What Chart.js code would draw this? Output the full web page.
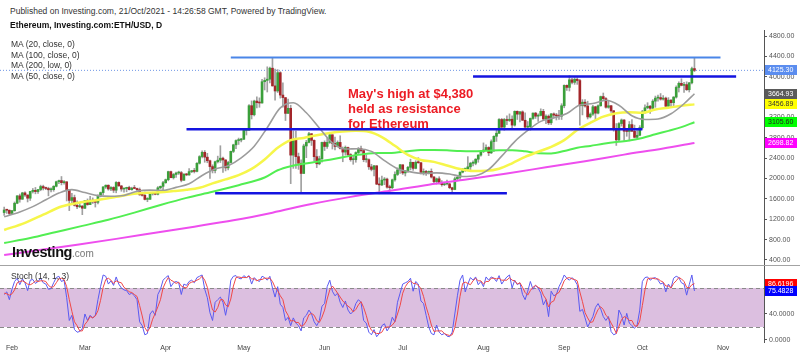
<!DOCTYPE html>
<html><head><meta charset="utf-8">
<script src="https://cdn.jsdelivr.net/npm/chart.js@4.4.1/dist/chart.umd.min.js"></script>
<style>
body{margin:0;background:#fff;width:800px;height:357px;overflow:hidden;position:relative;font-family:"Liberation Sans",Arial,sans-serif}
.t{position:absolute;white-space:nowrap;line-height:9px;font-size:8.5px;color:#333;z-index:3}
#mainBox{position:absolute;left:0;top:30px;width:800px;height:236px}
#stochBox{position:absolute;left:0;top:266px;width:800px;height:91px}
#sep{position:absolute;left:0;top:265px;width:800px;height:1px;background:#a3a3a3;z-index:2}
#note{position:absolute;left:348px;top:86px;font-weight:bold;font-size:13px;line-height:15px;color:#ec1c24;z-index:3;white-space:nowrap}
#logo{position:absolute;left:12px;top:243px;z-index:3;white-space:nowrap}
#logo b{font-size:14.5px;letter-spacing:-0.4px;color:#111}
#logo span{font-size:10px;color:#777}
</style></head><body>
<div class="t" style="left:10px;top:7px">Published on Investing.com, 21/Oct/2021 - 14:26:58 GMT, Powered by TradingView.</div>
<div class="t" style="left:10px;top:21px;font-weight:bold;color:#111">Ethereum, Investing.com:ETH/USD, D</div>
<div class="t" style="left:11px;top:40px">MA (20, close, 0)</div>
<div class="t" style="left:11px;top:51px">MA (100, close, 0)</div>
<div class="t" style="left:11px;top:61px">MA (200, low, 0)</div>
<div class="t" style="left:11px;top:72px">MA (50, close, 0)</div>
<div id="note">May's high at $4,380<br>held as resistance<br>for Ethereum</div>
<div id="logo"><b>Investing</b><span>.com</span></div>
<div class="t" style="left:11px;top:272px">Stoch (14, 1, 3)</div>
<div id="sep"></div>
<div id="mainBox"><canvas id="main"></canvas></div>
<div id="stochBox"><canvas id="stoch"></canvas></div>
<script>
// ---------------- DATA ----------------
const firstDate = '01-29';   // first daily candle (2021)
const opens = [1332,1382,1378,
1314,1369,1515,1660,1594,1718,1677,1614,1746,1768,1744,1784,1843,1814,1805,1779,1781,1848,1937,1960,1919,1935,1780,1570,1626,1475,1446,1459,
1417,1567,1488,1575,1541,1533,1655,1724,1835,1869,1795,1825,1771,1924,1855,1794,1806,1825,1782,1810,1805,1782,1681,1670,1590,1592,1700,1715,1692,1818,1847,
1919,1977,2136,2016,2080,2108,2116,1966,2088,2072,2136,2155,2140,2300,2431,2515,2420,2350,2235,2160,2330,2360,2400,2365,2210,2315,2534,2662,2746,2757,
2772,2946,2950,3431,3253,3522,3490,3484,3902,3928,3952,4168,3820,3720,4080,3640,3590,3280,3380,2460,2770,2430,2300,2100,2640,2710,2880,2750,2430,2290,2390,
2710,2630,2710,2860,2690,2630,2710,2590,2520,2610,2470,2370,2370,2510,2590,2550,2370,2370,2230,2180,2250,1890,1875,1970,1990,1830,1820,1975,2080,2170,
2270,2110,2150,2220,2320,2200,2320,2310,2120,2140,2110,2140,2030,1940,1995,1910,1880,1895,1895,1820,1785,1995,2025,2125,2185,2190,2230,2300,2300,2380,2460,
2535,2560,2610,2505,2725,2830,2890,3160,3010,3160,3140,3165,3050,3320,3265,3310,3145,3010,3020,3180,3285,3225,3240,3320,3170,3225,3095,3270,3245,3230,3225,
3430,3830,3790,3940,3890,3950,3925,3430,3500,3425,3210,3265,3410,3285,3430,3610,3570,3400,3430,3330,2960,2760,3080,3150,2930,2925,3060,2930,2810,2850,
3000,3310,3390,3420,3380,3520,3580,3590,3560,3580,3420,3540,3490,3600,3790,3870,3830,3845,3745,3880,4160];
const highs = [1440,1395,1382,
1375,1540,1665,1695,1730,1740,1680,1750,1805,1825,1785,1870,1870,1830,1830,1820,1860,1950,1970,2040,1960,1940,1780,1710,1675,1560,1528,1470,
1570,1600,1650,1620,1548,1680,1735,1840,1875,1875,1840,1840,1940,1935,1865,1815,1830,1850,1830,1865,1815,1815,1725,1735,1625,1705,1730,1730,1840,1855,1945,
1990,2145,2145,2100,2125,2145,2140,2095,2100,2195,2160,2200,2315,2450,2545,2550,2495,2365,2270,2345,2440,2645,2420,2370,2340,2540,2675,2760,2795,2790,
2950,2985,3455,3525,3540,3605,3585,3950,3980,4195,4190,4380,4150,4140,4100,3880,3590,3560,3440,2935,2930,2500,2370,2675,2750,2910,2885,2760,2570,2440,2715,
2740,2800,2890,2860,2815,2740,2840,2620,2640,2620,2490,2440,2525,2610,2640,2560,2460,2385,2280,2260,2255,2015,2050,2020,2010,1870,1990,2130,2210,2280,
2270,2160,2240,2380,2320,2350,2410,2320,2190,2160,2150,2190,2045,2010,2035,1960,1925,1970,1905,1830,2030,2045,2130,2200,2190,2430,2320,2350,2390,2470,2550,
2700,2660,2625,2760,2840,2950,3180,3180,3180,3230,3270,3230,3330,3330,3320,3330,3290,3120,3190,3290,3300,3270,3370,3360,3250,3250,3280,3290,3280,3340,3470,
3840,3840,4020,3970,3980,3980,3950,3550,3550,3520,3290,3440,3420,3450,3620,3680,3590,3520,3440,3340,3080,3100,3170,3160,2960,3120,3160,3050,2940,3040,
3340,3450,3490,3440,3550,3620,3640,3670,3630,3600,3590,3550,3610,3820,3900,3960,3890,3900,3890,4190,4370];
const lows = [1275,1315,1285,
1305,1358,1505,1535,1590,1650,1540,1570,1715,1700,1710,1760,1775,1780,1660,1735,1750,1835,1900,1875,1890,1560,1370,1505,1460,1410,1430,1290,
1410,1475,1487,1510,1440,1500,1640,1680,1805,1770,1760,1725,1720,1850,1750,1730,1740,1775,1770,1800,1730,1670,1655,1580,1545,1590,1675,1680,1680,1800,1780,
1905,1955,2015,1990,2020,2080,1935,1965,2055,2060,2115,2110,2130,2285,2405,2320,2310,2000,2110,2110,2305,2315,2120,2150,2170,2305,2510,2585,2670,2720,
2765,2855,2945,3170,3230,3385,3400,3480,3740,3700,3880,3815,3540,3690,3580,3400,3140,3280,1900,2200,2200,2180,1730,2100,2410,2700,2650,2345,2215,2270,2320,
2550,2590,2690,2580,2560,2620,2580,2330,2460,2440,2340,2280,2320,2470,2520,2330,2320,2180,2150,2050,1880,1700,1860,1880,1810,1720,1800,1950,2060,2100,
2080,2050,2120,2170,2160,2190,2300,2090,2070,2060,2090,2010,1920,1890,1890,1850,1860,1875,1800,1720,1780,1955,1985,2110,2140,2175,2160,2250,2270,2320,2440,
2510,2550,2450,2490,2530,2730,2880,2990,2950,3060,3120,2980,3030,3160,3110,3140,3000,2950,2950,3160,3180,3120,3230,3140,3080,3060,3060,3210,3150,3160,3160,
3390,3730,3720,3860,3850,3850,3050,3250,3400,3170,3190,3240,3150,3270,3420,3530,3380,3380,3300,2930,2650,2740,3030,2750,2830,2740,2920,2800,2790,2840,
2970,3280,3370,3280,3370,3400,3520,3540,3540,3410,3400,3400,3430,3580,3700,3820,3690,3730,3700,3860,4100];
const closes = [1382,1378,1314,
1369,1515,1660,1594,1718,1677,1614,1746,1768,1744,1784,1843,1814,1805,1779,1781,1848,1937,1960,1919,1935,1780,1570,1626,1475,1446,1459,1417,
1567,1488,1575,1541,1533,1655,1724,1835,1869,1795,1825,1771,1924,1855,1794,1806,1825,1782,1810,1805,1782,1681,1670,1590,1592,1700,1715,1692,1818,1847,1919,
1977,2136,2016,2080,2108,2116,1966,2088,2072,2136,2155,2140,2300,2431,2515,2420,2350,2235,2160,2330,2360,2400,2365,2210,2315,2534,2662,2746,2757,2772,
2946,2950,3431,3253,3522,3490,3484,3902,3928,3952,4168,3820,3720,4080,3640,3590,3280,3380,2460,2770,2430,2300,2100,2640,2710,2880,2750,2430,2290,2390,2710,
2630,2710,2860,2690,2630,2710,2590,2520,2610,2470,2370,2370,2510,2590,2550,2370,2370,2230,2180,2250,1890,1875,1970,1990,1830,1820,1975,2080,2170,2270,
2110,2150,2220,2320,2200,2320,2310,2120,2140,2110,2140,2030,1940,1995,1910,1880,1895,1895,1820,1785,1995,2025,2125,2185,2190,2230,2300,2300,2380,2460,2535,
2560,2610,2505,2725,2830,2890,3160,3010,3160,3140,3165,3050,3320,3265,3310,3145,3010,3020,3180,3285,3225,3240,3320,3170,3225,3095,3270,3245,3230,3225,3430,
3830,3790,3940,3890,3950,3925,3430,3500,3425,3210,3265,3410,3285,3430,3610,3570,3400,3430,3330,2960,2760,3080,3150,2930,2925,3060,2930,2810,2850,3000,
3310,3390,3420,3380,3520,3580,3590,3560,3580,3420,3540,3490,3600,3790,3870,3830,3845,3745,3880,4160,4125.30];

const ma20Dates = ['01-29','02-04','02-09','02-14','02-19','02-24','03-01','03-06','03-11','03-16','03-21','03-26','03-31','04-05','04-10','04-15','04-20','04-25','04-30','05-05','05-10','05-15','05-20','05-25','05-30','06-04','06-09','06-14','06-19','06-24','06-29','07-04','07-09','07-14','07-19','07-24','07-29','08-03','08-08','08-13','08-18','08-23','08-28','09-02','09-07','09-12','09-17','09-22','09-27','10-02','10-07','10-12','10-17','10-21'];
const ma20 = [1250,1345,1448,1583,1714,1782,1724,1665,1652,1668,1750,1772,1769,1827,1896,2061,2187,2253,2408,2636,2999,3388,3488,3292,2991,2700,2579,2586,2534,2352,2193,2131,2100,2112,2089,2041,2056,2179,2440,2726,2944,3123,3192,3276,3445,3473,3537,3440,3233,3161,3170,3272,3469,3664.93];
const ma50Dates = ['01-29','02-06','02-13','02-20','02-27','03-06','03-13','03-20','03-25','03-30','04-04','04-09','04-14','04-19','04-24','04-29','05-04','05-09','05-14','05-19','05-24','05-29','06-03','06-08','06-13','06-18','06-23','06-28','07-03','07-08','07-13','07-18','07-23','07-28','08-02','08-07','08-12','08-17','08-22','08-27','09-01','09-06','09-11','09-16','09-21','09-26','10-01','10-06','10-11','10-16','10-21'];
const ma50 = [990,1130,1290,1450,1530,1580,1640,1701,1723,1731,1755,1779,1819,1904,1983,2066,2189,2375,2604,2755,2798,2852,2895,2924,2937,2919,2815,2643,2466,2365,2327,2257,2186,2148,2152,2192,2299,2426,2527,2623,2755,2953,3095,3217,3284,3304,3292,3357,3392,3430,3456.89];
const ma100Dates = ['01-29','02-08','02-18','02-28','03-10','03-20','03-30','04-09','04-19','04-29','05-09','05-14','05-19','05-24','05-29','06-03','06-08','06-13','06-18','06-23','06-28','07-03','07-08','07-13','07-18','07-23','07-28','08-02','08-07','08-12','08-17','08-22','08-27','09-01','09-06','09-11','09-16','09-21','09-26','10-01','10-06','10-11','10-16','10-21'];
const ma100 = [735,830,950,1070,1190,1330,1480,1620,1740,1870,2020,2163,2243,2290,2330,2370,2420,2460,2492,2502,2509,2535,2560,2562,2555,2540,2536,2544,2555,2557,2534,2497,2494,2541,2605,2641,2682,2718,2748,2796,2869,2937,3010,3105.60];
const ma200Dates = ['01-29','02-11','02-26','03-13','03-28','04-12','04-27','05-12','05-27','06-11','06-26','07-11','07-26','08-10','08-25','09-09','09-24','10-09','10-21'];
const ma200Low = [497,590,700,815,935,1055,1180,1330,1500,1640,1760,1880,1985,2100,2220,2340,2470,2590,2698.82];

// drawn horizontal levels (price, from date, to date)
const levelPrices = [4380, 4005, 2970, 1712];
const levelFrom = ['04-26','07-28','04-09','04-20'];
const levelTo   = ['10-31','11-06','10-01','08-10'];

const stochK = [70,74,62,78,90,95,85,94,88,76,
92,93,87,90,95,88,86,78,79,88,
96,98,90,92,65,30,38,16,12,13,
18,40,30,38,34,38,62,82,100,98,
86,91,84,97,86,80,77,76,70,72,
68,62,28,22,8,10,40,45,38,70,
78,92,96,99,82,88,90,88,70,86,
84,90,92,88,96,98,100,78,65,42,
30,58,62,66,58,38,58,92,98,99,
95,94,99,96,99,86,96,92,90,98,
96,92,98,80,66,82,55,50,30,35,
22,34,26,22,14,34,38,46,40,28,
22,30,52,56,82,92,75,68,72,58,
50,60,46,40,44,56,62,58,30,26,
12,8,16,5,10,22,25,14,20,35,
28,58,72,86,88,90,95,75,90,86,
60,56,38,20,10,8,23,12,8,10,
6,5,12,40,68,92,100,74,86,96,
92,97,85,90,82,97,92,97,95,90,
99,86,92,97,100,80,92,85,88,70,
62,75,90,78,84,80,72,54,62,36,
75,68,70,82,90,100,95,92,96,92,
85,44,47,34,20,28,36,50,56,48,
36,30,36,13,8,10,46,38,23,41,
26,22,18,23,46,90,96,97,92,95,
96,92,86,88,74,86,80,95,98,96,
88,86,69,85,100,75.4828];
const stochD = [72,71,69,71,77,88,90,91,89,86,
85,87,91,90,91,91,90,84,81,82,
88,94,95,93,82,62,44,28,22,14,
14,24,29,36,34,37,45,61,81,93,
95,92,87,91,89,88,81,78,74,73,
70,67,53,37,19,13,19,32,41,51,
62,80,89,96,92,90,87,89,83,81,
80,87,89,90,92,94,98,92,81,62,
46,43,50,62,62,54,51,63,83,96,
97,96,96,96,98,94,94,91,93,93,
95,95,95,90,81,76,68,62,45,38,
29,30,27,27,21,23,29,39,41,38,
30,27,35,46,63,77,83,78,72,66,
60,56,52,49,43,47,54,59,50,38,
23,15,12,10,10,12,19,20,20,23,
28,40,53,72,82,88,91,87,87,84,
79,67,51,38,23,13,14,14,14,10,
8,7,8,19,40,67,87,89,87,85,
91,95,91,91,86,90,90,95,95,94,
95,92,92,92,96,92,91,86,88,81,
73,69,76,81,84,81,79,69,63,51,
58,60,71,73,81,91,95,96,94,93,
91,74,59,42,34,27,28,38,47,51,
47,38,34,26,19,10,21,31,36,34,
30,30,22,21,29,53,77,94,95,95,
94,94,91,89,83,83,80,87,91,96,
94,90,81,80,85,86.6196];
const stochLevels = [20, 80];
const priceTicks = [400,800,1200,1600,2000,2400,2800,3200,3600,4000,4400,4800];
const stochTicks = [0,40,80];
const monthLabels = ['Feb','Mar','Apr','May','Jun','Jul','Aug','Sep','Oct','Nov'];
const monthStarts = ['02-01','03-01','04-01','05-01','06-01','07-01','08-01','09-01','10-01','11-01'];

// ---------------- LAYOUT / STYLE ----------------
const X_MIN = -4.6, X_MAX = 288.7;            // visible day range
const P_MIN = 282, P_MAX = 4918;              // visible price range
const S_MIN = -3.08, S_MAX = 113.8;           // visible stoch range
const FONT = '"Liberation Sans", Arial, sans-serif';
const UP = '#3a9f3a', DOWN = '#a3262a', WICK = '#a0a0a0';
Chart.defaults.font.family = FONT;

const dayIndex = s => (Date.parse('2021-' + s + 'T00:00:00Z') - Date.parse('2021-02-01T00:00:00Z')) / 86400000;
const d0 = dayIndex(firstDate);
const pts = (dates, vals) => dates.map((s, i) => ({x: dayIndex(s), y: vals[i]}));
const last = a => a[a.length - 1];

const wickData = highs.map((h, i) => ({x: d0 + i, y: [lows[i], h]}));
const bodyData = closes.map((c, i) => ({x: d0 + i, y: [opens[i], c]}));
const bodyColors = closes.map((c, i) => c >= opens[i] ? UP : DOWN);

const maLine = (label, data, color, w, order) => ({type: 'line', label, data, borderColor: color, borderWidth: w,
  pointRadius: 0, fill: false, cubicInterpolationMode: 'monotone', order});

const levelSets = levelPrices.map((p, i) => ({type: 'line', data: [{x: dayIndex(levelFrom[i]), y: p}, {x: dayIndex(levelTo[i]), y: p}],
  borderColor: i === 0 ? '#4a86e8' : '#1414e0', borderWidth: i === 0 ? 2 : 2.5, pointRadius: 0, order: 0}));

const axisFit = w => a => { a.width = w; a.paddingTop = 0; a.paddingBottom = 0; };

const mainTags = {
  id: 'mainTags',
  afterDraw(chart) {
    const ys = chart.scales.y, ar = chart.chartArea, ctx = chart.ctx;
    const tags = [
      {v: last(closes), bg: '#5b8def', fg: '#fff'},
      {v: last(ma20), bg: '#5a5a5a', fg: '#fff'},
      {v: last(ma50), bg: '#ffff00', fg: '#333'},
      {v: last(ma100), bg: '#00ff00', fg: '#222'},
      {v: last(ma200Low), bg: '#ff00ff', fg: '#fff'}];
    ctx.save();
    ctx.font = '7px ' + FONT; ctx.textBaseline = 'middle';
    tags.forEach(t => {
      const y = Math.round(ys.getPixelForValue(t.v));
      ctx.fillStyle = t.bg; ctx.fillRect(ar.right + 1, y - 5, 32, 10);
      ctx.fillStyle = t.fg; ctx.fillText(t.v.toFixed(2), ar.right + 4, y + 0.5);
    });
    ctx.restore();
  }
};

new Chart(document.getElementById('main'), {
  type: 'bar',
  data: {datasets: [
    ...levelSets,
    maLine('MA20', pts(ma20Dates, ma20), '#9c9c9c', 1.6, 1),
    maLine('MA50', pts(ma50Dates, ma50), '#f6f64a', 2.5, 2),
    maLine('MA100', pts(ma100Dates, ma100), '#52ee52', 2, 3),
    maLine('MA200', pts(ma200Dates, ma200Low), '#ee4eee', 2, 4),
    {type: 'bar', data: bodyData, backgroundColor: bodyColors, barThickness: 2, minBarLength: 1, grouped: false, borderWidth: 0, order: 5},
    {type: 'bar', data: wickData, backgroundColor: WICK, barThickness: 1, grouped: false, borderWidth: 0, order: 6},
    {type: 'line', data: [{x: X_MIN, y: last(closes)}, {x: X_MAX, y: last(closes)}], borderColor: '#6f96e6', borderWidth: 1,
      borderDash: [1, 2], pointRadius: 0, order: 7}
  ]},
  options: {
    responsive: true, maintainAspectRatio: false, animation: false,
    layout: {padding: 0},
    plugins: {legend: {display: false}, tooltip: {enabled: false}},
    scales: {
      x: {type: 'linear', min: X_MIN, max: X_MAX, offset: false, display: false},
      y: {position: 'right', min: P_MIN, max: P_MAX,
        afterBuildTicks: a => { a.ticks = priceTicks.map(v => ({value: v})); },
        afterFit: axisFit(36),
        ticks: {font: {size: 7}, color: '#555', padding: 2, autoSkip: false, callback: v => Number(v).toFixed(2)},
        grid: {drawOnChartArea: false, drawTicks: true, tickLength: 3, color: '#555'},
        border: {display: true, color: '#555'}}
    }
  },
  plugins: [mainTags]
});

const stochDeco = {
  id: 'stochDeco',
  beforeDatasetsDraw(chart) {
    const ys = chart.scales.y, ar = chart.chartArea, ctx = chart.ctx;
    const yTop = ys.getPixelForValue(stochLevels[1]), yBot = ys.getPixelForValue(stochLevels[0]);
    ctx.save();
    ctx.fillStyle = '#dcbfe0';
    ctx.fillRect(ar.left, yTop, ar.right - ar.left, yBot - yTop);
    ctx.strokeStyle = '#8a8a8a'; ctx.lineWidth = 1; ctx.setLineDash([4, 3]);
    [yTop, yBot].forEach(y => { ctx.beginPath(); ctx.moveTo(ar.left, Math.round(y) + 0.5); ctx.lineTo(ar.right, Math.round(y) + 0.5); ctx.stroke(); });
    ctx.restore();
  },
  afterDraw(chart) {
    const ys = chart.scales.y, ar = chart.chartArea, ctx = chart.ctx;
    const tags = [{v: last(stochD), bg: '#ff0000'}, {v: last(stochK), bg: '#0000ff'}];
    ctx.save();
    ctx.font = '7px ' + FONT; ctx.textBaseline = 'middle';
    tags.forEach(t => {
      const y = Math.round(ys.getPixelForValue(t.v));
      ctx.fillStyle = t.bg; ctx.fillRect(ar.right + 1, y - 5, 32, 10);
      ctx.fillStyle = '#fff'; ctx.fillText(t.v.toFixed(4), ar.right + 4, y + 0.5);
    });
    ctx.restore();
  }
};

const sPts = arr => arr.map((v, i) => ({x: d0 + i, y: v}));
new Chart(document.getElementById('stoch'), {
  type: 'line',
  data: {datasets: [
    {data: sPts(stochD), borderColor: '#f04848', borderWidth: 1, pointRadius: 0, tension: 0, order: 0},
    {data: sPts(stochK), borderColor: '#5a5af2', borderWidth: 1, pointRadius: 0, tension: 0, order: 1}
  ]},
  options: {
    responsive: true, maintainAspectRatio: false, animation: false,
    layout: {padding: 0},
    plugins: {legend: {display: false}, tooltip: {enabled: false}},
    scales: {
      x: {type: 'linear', min: X_MIN, max: X_MAX, offset: false,
        afterBuildTicks: a => { a.ticks = monthStarts.map(s => ({value: dayIndex(s)})); },
        afterFit: a => { a.height = 15; a.paddingLeft = 0; a.paddingRight = 0; },
        ticks: {font: {size: 7}, color: '#444', padding: 2, maxRotation: 0, autoSkip: false, callback: (v, i) => monthLabels[i]},
        grid: {drawOnChartArea: false, drawTicks: false},
        border: {display: false}},
      y: {position: 'right', min: S_MIN, max: S_MAX,
        afterBuildTicks: a => { a.ticks = stochTicks.map(v => ({value: v})); },
        afterFit: axisFit(36),
        ticks: {font: {size: 7}, color: '#555', padding: 2, autoSkip: false, callback: v => Number(v).toFixed(4)},
        grid: {drawOnChartArea: false, drawTicks: true, tickLength: 3, color: '#555'},
        border: {display: true, color: '#555'}}
    }
  },
  plugins: [stochDeco]
});
</script>
</body></html>
